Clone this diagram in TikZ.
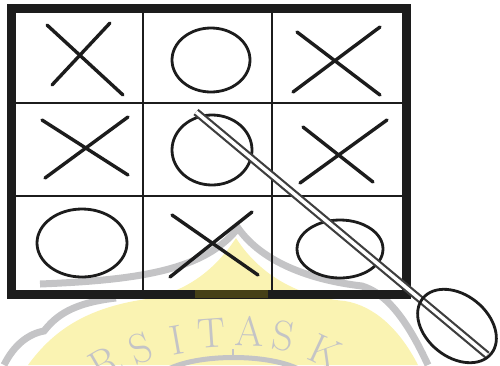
\documentclass[tikz,border=0pt]{standalone}
\usepackage{fontspec}
\usepackage{tikz}
\usepackage{xcolor}
\definecolor{inkBlack}{RGB}{28,28,28}
\definecolor{sealYellow}{RGB}{250,243,178}
\definecolor{sealGray}{RGB}{196,196,198}
\definecolor{inkOlive}{RGB}{70,64,22}

\begin{document}
\begin{tikzpicture}[x=1pt, y=-1pt,
    xstroke/.style={inkBlack, line width=3.4, line cap=round},
    ostroke/.style={inkBlack, line width=2.8},
    band/.style={sealGray, line width=7},
    sealtext/.style={text=sealGray, font=\fontsize{42}{42}\selectfont, inner sep=0pt}]
  \useasboundingbox (0,0) rectangle (500,365);
  % watermark under the board
  \fill[sealYellow] (28,365) .. controls (50,335) and (80,310) .. (140,300)
    .. controls (185,294) and (215,270) .. (236,238)
    .. controls (255,268) and (290,296) .. (345,301)
    .. controls (375,306) and (400,330) .. (418,365) -- cycle;
  \draw[band] (40,284) .. controls (140,280) and (205,270) .. (238,228)
    .. controls (262,262) and (310,280) .. (362,286)
    .. controls (388,294) and (408,322) .. (428,365);
  \draw[band] (4,365) .. controls (14,345) and (28,334) .. (44,331)
    .. controls (56,316) and (72,303) .. (116,298);
  \draw[sealGray, line width=5] (165,371) .. controls (195,353) and (272,353) .. (302,371);
  \draw[sealGray, line width=2] (233,349) -- (233,356);
  \foreach \ch/\x/\y/\a in {R/105/363/30, S/141/348/20, I/177/340/10, T/211/333/4,
      A/250/331/-2, S/283/336/-9, K/325/352/-25} {
    \node[sealtext, rotate=\a] (wm\ch\x) at (\x,\y) {\ch};
  }
  % board
  \draw[inkBlack, line width=9] (11,8) rectangle (406,294);
  \draw[inkOlive, line width=8] (195,294) -- (268,294);
  \foreach \v in {143,272} {
    \draw[inkBlack, line width=2] (\v,10) -- (\v,292);
  }
  \foreach \h in {103,196} {
    \draw[inkBlack, line width=2] (13,\h) -- (404,\h);
  }
  \foreach \ax/\ay/\bx/\by/\cx/\cy/\dx/\dy in {
    47/25/123/95/110/23/52/85,
    297/32/380/95/380/27/293/92,
    42/120/128/175/128/117/45/178,
    303/127/373/182/387/120/300/183,
    172/215/258/275/252/212/170/277
  } {
    \draw[xstroke] (\ax,\ay) -- (\bx,\by);
    \draw[xstroke] (\cx,\cy) -- (\dx,\dy);
  }
  \foreach \ox/\oy/\rx/\ry in {211/60/39/32, 212/150/40/35, 82/243/45/34, 340/249/43/29} {
    \draw[ostroke] (\ox,\oy) ellipse [x radius=\rx, y radius=\ry];
  }
  % strike line with its end
  \draw[inkBlack!85, line width=2.2, double=white, double distance=3.5] (196,112) -- (487,355);
  \draw[ostroke] (457,326) [rotate around={-39:(457,326)}] ellipse [x radius=44, y radius=31];
\end{tikzpicture}
\end{document}
